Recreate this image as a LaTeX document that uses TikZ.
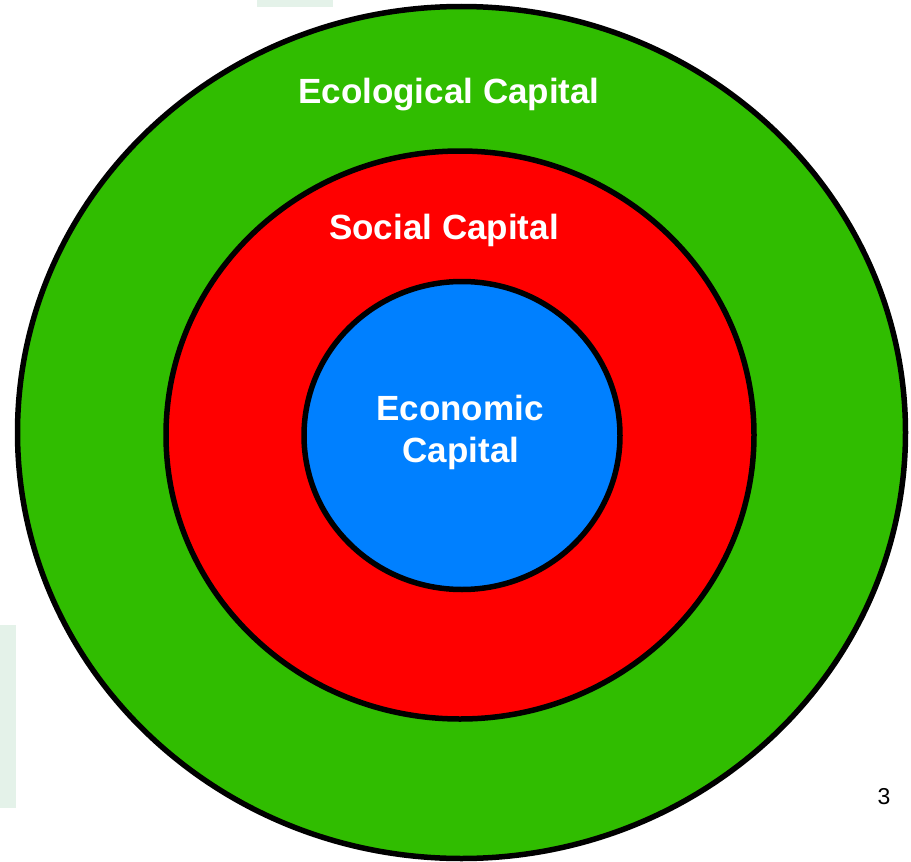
\documentclass[tikz,border=0pt]{standalone}
\usepackage[rgb]{xcolor}
\usepackage{fontspec}
\setmainfont{Liberation Sans}
\usepackage{tikz}

\definecolor{ecogreen}{RGB}{48,189,0}
\definecolor{socred}{RGB}{255,0,0}
\definecolor{econblue}{RGB}{0,128,255}
\definecolor{paleback}{RGB}{228,242,233}

\tikzset{
  ring/.style={draw=black, line width=5.5pt},
  capital/.style={text=white, font=\bfseries\fontsize{35}{42}\selectfont, anchor=base, inner sep=0pt}
}

\begin{document}
\begin{tikzpicture}[x=1pt, y=-1pt]
\useasboundingbox (0,0) rectangle (911,862);

% faint slide background pieces
\fill[paleback] (257,0) rectangle (333,7);
\fill[paleback] (0,625) rectangle (16,808);

%% the three nested capitals
\filldraw[ring, fill=ecogreen] (461.5,432.5) ellipse (444 and 426);
\filldraw[ring, fill=socred] (460,435) ellipse (294 and 284);
\filldraw[ring, fill=econblue] (462,435.5) ellipse (158 and 154);

\path
(449,103) node[capital](eco) {Ecological Capital}
(444,239) node[capital](soc) {Social Capital}
(460,420) node[capital](econ) {Economic}
(461,462) node[capital](econcap) {Capital};

%% page number
\node[anchor=base, font=\fontsize{23}{27}\selectfont, inner sep=0pt](page) at (884,804) {3};

\end{tikzpicture}
\end{document}
